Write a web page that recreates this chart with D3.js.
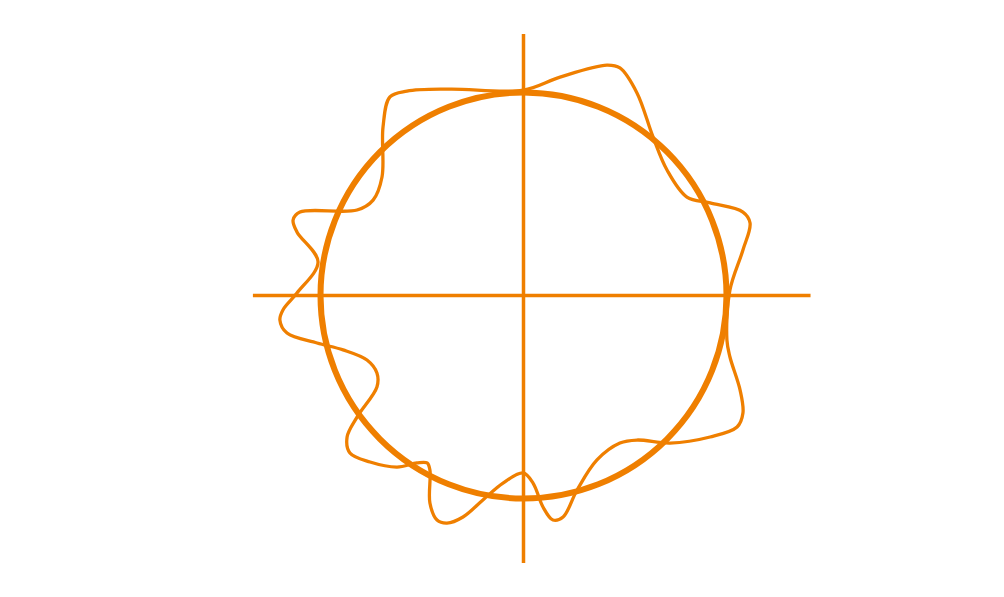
<!DOCTYPE html>
<html>
<head>
<meta charset="utf-8">
<script src="https://cdn.jsdelivr.net/npm/d3@7"></script>
<style>
  body { margin: 0; background: #fff; }
</style>
</head>
<body>
<div id="chart"></div>
<script>
// circle radius = 1 unit, centre at origin
var circleRadius = 1;
var xAxisExtent = [-1.333, 1.414];
var yAxisExtent = [-1.318, 1.288];

// wavy outline (clockwise from the top)
var waveX = [-0.002, 0.180, 0.411, 0.475, 0.559, 0.638, 0.707, 0.805, 0.919, 1.081,
  1.116, 1.081, 1.017, 1.002, 1.017, 1.067, 1.081, 1.052, 0.919, 0.722,
  0.559, 0.475, 0.362, 0.264, 0.195, 0.145, 0.096, 0.047, -0.002, -0.101,
  -0.200, -0.298, -0.377, -0.426, -0.461, -0.461, -0.475, -0.525, -0.623, -0.756,
  -0.855, -0.869, -0.820, -0.722, -0.722, -0.771, -0.889, -1.017, -1.165, -1.200,
  -1.185, -1.116, -1.012, -1.116, -1.135, -1.101, -0.820, -0.741, -0.697, -0.692,
  -0.658, -0.574, -0.362];
var waveY = [1.012, 1.076, 1.135, 1.121, 0.998, 0.781, 0.618, 0.485, 0.456, 0.411,
  0.357, 0.224, 0.027, -0.219, -0.303, -0.466, -0.579, -0.648, -0.697, -0.727,
  -0.712, -0.727, -0.810, -0.958, -1.091, -1.106, -1.042, -0.924, -0.874, -0.924,
  -1.007, -1.091, -1.121, -1.106, -1.022, -0.860, -0.825, -0.825, -0.845, -0.820,
  -0.776, -0.697, -0.599, -0.451, -0.382, -0.318, -0.268, -0.234, -0.185, -0.121,
  -0.071, 0.012, 0.165, 0.313, 0.372, 0.411, 0.421, 0.470, 0.584, 0.830,
  0.978, 1.007, 1.017];

var color = "#ef7f00";

var svg = d3.select("#chart")
  .append("svg")
  .attr("width", 1004)
  .attr("height", 597);

var x = d3.scaleLinear()
  .domain([-1, 1])
  .range([320.5, 726.5]);
var y = d3.scaleLinear()
  .domain([-1, 1])
  .range([498.5, 92.5]);

var g = svg.append("g");

// axes through the centre
g.append("line")
  .attr("x1", x(xAxisExtent[0]))
  .attr("x2", x(xAxisExtent[1]))
  .attr("y1", y(0))
  .attr("y2", y(0))
  .attr("stroke", color)
  .attr("stroke-width", 3.5);

g.append("line")
  .attr("x1", x(0))
  .attr("x2", x(0))
  .attr("y1", y(yAxisExtent[1]))
  .attr("y2", y(yAxisExtent[0]))
  .attr("stroke", color)
  .attr("stroke-width", 3.5);

// unit circle
g.append("circle")
  .attr("cx", x(0))
  .attr("cy", y(0))
  .attr("r", x(circleRadius) - x(0))
  .attr("fill", "none")
  .attr("stroke", color)
  .attr("stroke-width", 6);

var pts = waveX.map(function (d, i) { return [d, waveY[i]]; });

var line = d3.line()
  .x(function (d) { return x(d[0]); })
  .y(function (d) { return y(d[1]); })
  .curve(d3.curveCatmullRomClosed.alpha(0.5));

g.append("path")
  .datum(pts)
  .attr("d", line)
  .attr("fill", "none")
  .attr("stroke", color)
  .attr("stroke-width", 3.3);
</script>
</body>
</html>
